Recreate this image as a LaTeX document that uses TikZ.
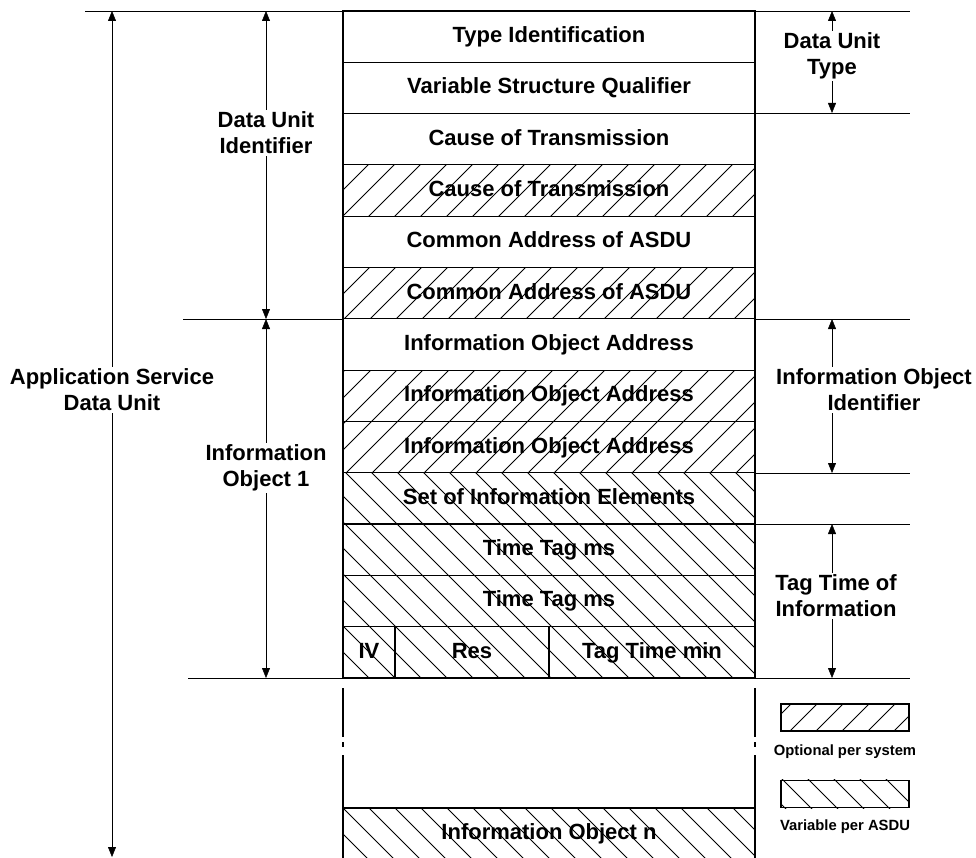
\documentclass[tikz,border=0pt]{standalone}
\usepackage{fontspec}
\setmainfont{Liberation Sans}
\usetikzlibrary{arrows.meta, positioning}
\pgfdeclarelayer{hatch}
\pgfsetlayers{hatch,main}

\tikzset{
	field/.style={draw, outer sep=0pt, inner sep=0pt, minimum width=412pt, minimum height=51.3pt,
		text height=16.5pt, text depth=4.5pt},
	side/.style={fill=white, inner sep=2pt, align=center},
	hatchline/.style={line width=1pt},
	keybox/.style={draw, minimum width=128pt, minimum height=27pt},
	keytext/.style={font=\bfseries\fontsize{14.8}{17}\selectfont},
}

\begin{document}
\begin{tikzpicture}[x=1pt, y=-1pt, line width=1.2pt, >={Triangle[length=10pt, width=8pt]},
	font=\bfseries\fontsize{22}{26}\selectfont]
	\useasboundingbox (0,0) rectangle (976,858);
	% the frame column
	\foreach \N/\T in {1/{Type Identification},
					   2/{Variable Structure Qualifier},
					   3/{Cause of Transmission},
					   4/{Cause of Transmission},
					   5/{Common Address of ASDU},
					   6/{Common Address of ASDU},
					   7/{Information Object Address},
					   8/{Information Object Address},
					   9/{Information Object Address},
					  10/{Set of Information Elements},
					  11/{Time Tag ms},
					  12/{Time Tag ms}
		} {
		\node[field] (row\N) at (549, {11+(\N-0.5)*51.3}) {\T};
		}
	\node[field, minimum width=52pt] (iv) at (369, 652.25) {IV};
	\node[field, minimum width=154pt, right=0pt of iv] (res) {Res};
	\node[field, minimum width=206pt, right=0pt of res] (tagmin) {Tag Time min};
	% broken sides and last object
	\foreach \X in {343, 755} {
		\draw (\X,688) -- (\X,737) (\X,742) -- (\X,747) (\X,755) -- (\X,808);
		}
	\node[field] (rown) at (549, 833.65) {Information Object n};
	% legend
	\node[keybox] (keyopt) at (845,717.5) {};
	\node[keytext] (keyoptlabel) at (845,752) {Optional per system};
	\node[keybox] (keyvar) at (845,794) {};
	\node[keytext] (keyvarlabel) at (845,827) {Variable per ASDU};
	% hatching: / optional per system, \ variable per ASDU
	\begin{pgfonlayer}{hatch}
	\foreach \R in {row4, row6, row8, row9, keyopt} {
		\begin{scope}
		\clip (\R.north west) rectangle (\R.south east);
		\foreach \k in {0,...,71} \draw[hatchline] ({26*\k-887}, 900) -- ++(950,-950);
		\end{scope}
		}
	\foreach \R in {row10, row11, row12, iv, res, tagmin, rown, keyvar} {
		\begin{scope}
		\clip (\R.north west) rectangle (\R.south east);
		\foreach \k in {0,...,73} \draw[hatchline] ({26*\k-957}, -50) -- ++(950,950);
		\end{scope}
		}
	\end{pgfonlayer}
	% horizontal marks
	\draw (85,11) -- (910,11);
	\draw (183,319) -- (343,319);
	\draw (188,678) -- (910,678);
	\foreach \Y in {113, 319, 473, 524} {
		\draw (755,\Y) -- (910,\Y);
		}
	% arrow ends
	\coordinate (asduA) at (112,11);   \coordinate (asduB) at (112,857);
	\coordinate (duiA) at (266,11);    \coordinate (duiB) at (266,319);
	\coordinate (ioA) at (266,319);    \coordinate (ioB) at (266,678);
	\coordinate (dutA) at (832,11);    \coordinate (dutB) at (832,113);
	\coordinate (ioiA) at (832,319);   \coordinate (ioiB) at (832,473);
	\coordinate (ttiA) at (832,524);   \coordinate (ttiB) at (832,678);
	% arrows, one by one
	\draw[<->] (asduA) -- (asduB);
	\draw[<->] (duiA) -- (duiB);
	\draw[<->] (ioA) -- (ioB);
	\draw[<->] (dutA) -- (dutB);
	\draw[<->] (ioiA) -- (ioiB);
	\draw[<->] (ttiA) -- (ttiB);
	\node[side] (asdu) at (112,390) {Application Service\\Data Unit};
	\node[side] (dui) at (266,133) {Data Unit\\Identifier};
	\node[side] (io) at (266,468) {Information\\Object 1};
	\node[side] (dut) at (832,56) {Data Unit\\Type};
	\node[side] (ioi) at (874,390) {Information Object\\Identifier};
	\node[side] (tti) at (836,596) {Tag Time of\\Information};
\end{tikzpicture}
\end{document}
